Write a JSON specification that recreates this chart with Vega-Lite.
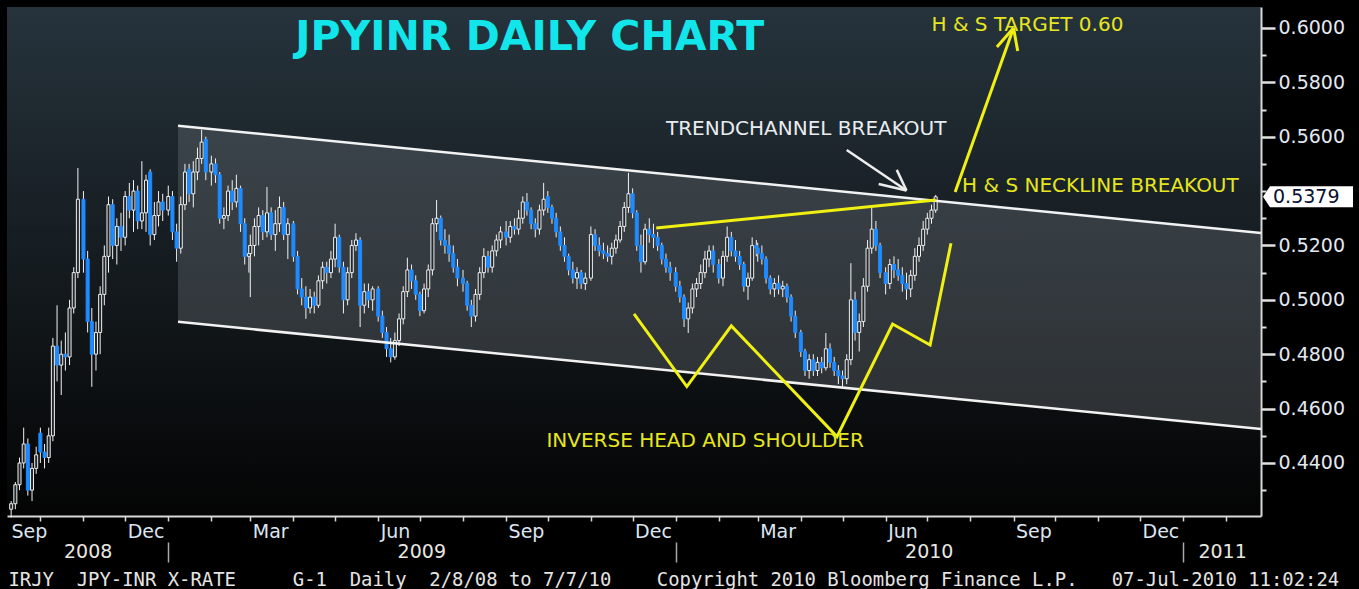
{
"$schema":"https://vega.github.io/schema/vega-lite/v6.json",
"width":1254,"height":509,
"autosize":{"type":"none"},
"padding":{"left":7,"top":7,"right":98,"bottom":73},
"background":"#000000",
"config":{
 "view":{"stroke":null,"fill":{"gradient":"linear","x1":0,"y1":0,"x2":0,"y2":1,"stops":[{"offset":0,"color":"#26333c"},{"offset":1,"color":"#040404"}]}},
 "axis":{"grid":false,"title":null,"labelFont":"DejaVu Sans","labelFontSize":19,"labelColor":"#e2e9f2","labelOverlap":false,"labelFlush":false,"labelLimit":2000,"labelBound":false}
},
"resolve":{"axis":{"x":"independent","y":"independent"}},
"datasets":{
"px":[
{"d":"2008-09-10","o":0.4230,"h":0.4260,"l":0.4200,"c":0.4250},
{"d":"2008-09-13","o":0.4250,"h":0.4330,"l":0.4230,"c":0.4320},
{"d":"2008-09-16","o":0.4320,"h":0.4420,"l":0.4300,"c":0.4400},
{"d":"2008-09-19","o":0.4400,"h":0.4530,"l":0.4380,"c":0.4470},
{"d":"2008-09-22","o":0.4470,"h":0.4490,"l":0.4280,"c":0.4300},
{"d":"2008-09-25","o":0.4300,"h":0.4400,"l":0.4260,"c":0.4380},
{"d":"2008-09-28","o":0.4380,"h":0.4460,"l":0.4360,"c":0.4430},
{"d":"2008-10-01","o":0.4510,"h":0.4530,"l":0.4400,"c":0.4440},
{"d":"2008-10-04","o":0.4440,"h":0.4470,"l":0.4380,"c":0.4420},
{"d":"2008-10-07","o":0.4420,"h":0.4530,"l":0.4400,"c":0.4500},
{"d":"2008-10-10","o":0.4500,"h":0.4860,"l":0.4480,"c":0.4830},
{"d":"2008-10-13","o":0.4830,"h":0.4980,"l":0.4700,"c":0.4760},
{"d":"2008-10-16","o":0.4760,"h":0.4850,"l":0.4650,"c":0.4800},
{"d":"2008-10-19","o":0.4800,"h":0.4880,"l":0.4740,"c":0.4790},
{"d":"2008-10-22","o":0.4790,"h":0.5000,"l":0.4760,"c":0.4970},
{"d":"2008-10-25","o":0.4970,"h":0.5120,"l":0.4950,"c":0.5100},
{"d":"2008-10-28","o":0.5100,"h":0.5485,"l":0.5080,"c":0.5370},
{"d":"2008-11-01","o":0.5370,"h":0.5400,"l":0.5100,"c":0.5150},
{"d":"2008-11-04","o":0.5150,"h":0.5180,"l":0.4880,"c":0.4920},
{"d":"2008-11-07","o":0.4920,"h":0.4970,"l":0.4680,"c":0.4800},
{"d":"2008-11-10","o":0.4800,"h":0.4920,"l":0.4740,"c":0.4880},
{"d":"2008-11-13","o":0.4880,"h":0.5050,"l":0.4800,"c":0.5020},
{"d":"2008-11-16","o":0.5020,"h":0.5200,"l":0.4980,"c":0.5160},
{"d":"2008-11-19","o":0.5160,"h":0.5380,"l":0.5100,"c":0.5350},
{"d":"2008-11-22","o":0.5350,"h":0.5370,"l":0.5150,"c":0.5200},
{"d":"2008-11-25","o":0.5200,"h":0.5300,"l":0.5130,"c":0.5270},
{"d":"2008-11-28","o":0.5270,"h":0.5320,"l":0.5180,"c":0.5230},
{"d":"2008-12-01","o":0.5230,"h":0.5400,"l":0.5200,"c":0.5380},
{"d":"2008-12-04","o":0.5380,"h":0.5430,"l":0.5300,"c":0.5330},
{"d":"2008-12-07","o":0.5330,"h":0.5440,"l":0.5250,"c":0.5400},
{"d":"2008-12-10","o":0.5400,"h":0.5420,"l":0.5260,"c":0.5290},
{"d":"2008-12-13","o":0.5290,"h":0.5510,"l":0.5260,"c":0.5320},
{"d":"2008-12-16","o":0.5320,"h":0.5460,"l":0.5250,"c":0.5440},
{"d":"2008-12-19","o":0.5470,"h":0.5480,"l":0.5200,"c":0.5240},
{"d":"2008-12-22","o":0.5240,"h":0.5360,"l":0.5220,"c":0.5310},
{"d":"2008-12-25","o":0.5310,"h":0.5400,"l":0.5270,"c":0.5360},
{"d":"2008-12-28","o":0.5360,"h":0.5390,"l":0.5290,"c":0.5330},
{"d":"2009-01-01","o":0.5330,"h":0.5420,"l":0.5310,"c":0.5380},
{"d":"2009-01-04","o":0.5380,"h":0.5400,"l":0.5220,"c":0.5250},
{"d":"2009-01-07","o":0.5250,"h":0.5280,"l":0.5140,"c":0.5190},
{"d":"2009-01-10","o":0.5190,"h":0.5380,"l":0.5170,"c":0.5350},
{"d":"2009-01-13","o":0.5350,"h":0.5500,"l":0.5330,"c":0.5470},
{"d":"2009-01-16","o":0.5480,"h":0.5500,"l":0.5360,"c":0.5390},
{"d":"2009-01-19","o":0.5390,"h":0.5510,"l":0.5340,"c":0.5470},
{"d":"2009-01-22","o":0.5470,"h":0.5560,"l":0.5440,"c":0.5520},
{"d":"2009-01-25","o":0.5520,"h":0.5625,"l":0.5500,"c":0.5580},
{"d":"2009-01-28","o":0.5590,"h":0.5600,"l":0.5440,"c":0.5470},
{"d":"2009-02-01","o":0.5470,"h":0.5530,"l":0.5420,"c":0.5500},
{"d":"2009-02-04","o":0.5500,"h":0.5520,"l":0.5430,"c":0.5460},
{"d":"2009-02-07","o":0.5460,"h":0.5470,"l":0.5280,"c":0.5300},
{"d":"2009-02-10","o":0.5300,"h":0.5340,"l":0.5260,"c":0.5310},
{"d":"2009-02-13","o":0.5310,"h":0.5420,"l":0.5290,"c":0.5400},
{"d":"2009-02-16","o":0.5400,"h":0.5440,"l":0.5330,"c":0.5360},
{"d":"2009-02-19","o":0.5360,"h":0.5460,"l":0.5340,"c":0.5410},
{"d":"2009-02-22","o":0.5410,"h":0.5420,"l":0.5250,"c":0.5280},
{"d":"2009-02-25","o":0.5280,"h":0.5300,"l":0.5130,"c":0.5160},
{"d":"2009-02-28","o":0.5160,"h":0.5200,"l":0.5100,"c":0.5170},
{"d":"2009-03-01","o":0.5170,"h":0.5240,"l":0.5010,"c":0.5200},
{"d":"2009-03-04","o":0.5200,"h":0.5300,"l":0.5160,"c":0.5270},
{"d":"2009-03-07","o":0.5270,"h":0.5340,"l":0.5200,"c":0.5310},
{"d":"2009-03-10","o":0.5310,"h":0.5330,"l":0.5220,"c":0.5250},
{"d":"2009-03-13","o":0.5250,"h":0.5415,"l":0.5230,"c":0.5320},
{"d":"2009-03-16","o":0.5320,"h":0.5340,"l":0.5220,"c":0.5240},
{"d":"2009-03-19","o":0.5240,"h":0.5330,"l":0.5180,"c":0.5280},
{"d":"2009-03-22","o":0.5280,"h":0.5380,"l":0.5250,"c":0.5340},
{"d":"2009-03-25","o":0.5340,"h":0.5360,"l":0.5220,"c":0.5240},
{"d":"2009-03-28","o":0.5240,"h":0.5300,"l":0.5150,"c":0.5280},
{"d":"2009-04-01","o":0.5280,"h":0.5290,"l":0.5140,"c":0.5160},
{"d":"2009-04-04","o":0.5160,"h":0.5180,"l":0.5020,"c":0.5040},
{"d":"2009-04-07","o":0.5040,"h":0.5080,"l":0.4980,"c":0.5010},
{"d":"2009-04-10","o":0.5010,"h":0.5050,"l":0.4930,"c":0.4970},
{"d":"2009-04-13","o":0.4970,"h":0.5040,"l":0.4950,"c":0.5010},
{"d":"2009-04-16","o":0.5010,"h":0.5030,"l":0.4950,"c":0.4980},
{"d":"2009-04-19","o":0.4980,"h":0.5090,"l":0.4970,"c":0.5070},
{"d":"2009-04-22","o":0.5070,"h":0.5140,"l":0.5040,"c":0.5120},
{"d":"2009-04-25","o":0.5120,"h":0.5140,"l":0.5060,"c":0.5100},
{"d":"2009-04-28","o":0.5100,"h":0.5180,"l":0.5080,"c":0.5150},
{"d":"2009-05-01","o":0.5150,"h":0.5280,"l":0.5120,"c":0.5230},
{"d":"2009-05-04","o":0.5230,"h":0.5240,"l":0.5100,"c":0.5120},
{"d":"2009-05-07","o":0.5120,"h":0.5140,"l":0.4950,"c":0.5000},
{"d":"2009-05-10","o":0.5000,"h":0.5120,"l":0.4980,"c":0.5100},
{"d":"2009-05-13","o":0.5100,"h":0.5220,"l":0.5080,"c":0.5200},
{"d":"2009-05-16","o":0.5200,"h":0.5245,"l":0.5180,"c":0.5220},
{"d":"2009-05-19","o":0.5220,"h":0.5230,"l":0.4900,"c":0.4980},
{"d":"2009-05-22","o":0.4980,"h":0.5060,"l":0.4950,"c":0.5030},
{"d":"2009-05-25","o":0.5030,"h":0.5060,"l":0.4970,"c":0.5000},
{"d":"2009-05-28","o":0.5000,"h":0.5050,"l":0.4960,"c":0.5040},
{"d":"2009-06-01","o":0.5040,"h":0.5050,"l":0.4920,"c":0.4940},
{"d":"2009-06-04","o":0.4940,"h":0.4960,"l":0.4860,"c":0.4880},
{"d":"2009-06-07","o":0.4880,"h":0.4900,"l":0.4790,"c":0.4820},
{"d":"2009-06-10","o":0.4820,"h":0.4860,"l":0.4770,"c":0.4790},
{"d":"2009-06-13","o":0.4790,"h":0.4880,"l":0.4780,"c":0.4850},
{"d":"2009-06-16","o":0.4850,"h":0.4950,"l":0.4830,"c":0.4930},
{"d":"2009-06-19","o":0.4930,"h":0.5050,"l":0.4910,"c":0.5030},
{"d":"2009-06-22","o":0.5030,"h":0.5155,"l":0.5010,"c":0.5110},
{"d":"2009-06-25","o":0.5110,"h":0.5130,"l":0.5040,"c":0.5070},
{"d":"2009-06-28","o":0.5070,"h":0.5090,"l":0.5000,"c":0.5020},
{"d":"2009-07-01","o":0.5020,"h":0.5030,"l":0.4940,"c":0.4960},
{"d":"2009-07-04","o":0.4960,"h":0.5060,"l":0.4950,"c":0.5040},
{"d":"2009-07-07","o":0.5040,"h":0.5130,"l":0.5010,"c":0.5110},
{"d":"2009-07-10","o":0.5110,"h":0.5300,"l":0.5090,"c":0.5280},
{"d":"2009-07-13","o":0.5280,"h":0.5367,"l":0.5250,"c":0.5300},
{"d":"2009-07-16","o":0.5300,"h":0.5310,"l":0.5200,"c":0.5220},
{"d":"2009-07-19","o":0.5220,"h":0.5260,"l":0.5170,"c":0.5200},
{"d":"2009-07-22","o":0.5200,"h":0.5240,"l":0.5140,"c":0.5170},
{"d":"2009-07-25","o":0.5170,"h":0.5200,"l":0.5100,"c":0.5120},
{"d":"2009-07-28","o":0.5120,"h":0.5150,"l":0.5050,"c":0.5080},
{"d":"2009-08-01","o":0.5080,"h":0.5110,"l":0.5030,"c":0.5060},
{"d":"2009-08-04","o":0.5060,"h":0.5070,"l":0.4960,"c":0.4980},
{"d":"2009-08-07","o":0.4980,"h":0.5000,"l":0.4900,"c":0.4940},
{"d":"2009-08-10","o":0.4940,"h":0.5040,"l":0.4920,"c":0.5020},
{"d":"2009-08-13","o":0.5020,"h":0.5120,"l":0.5000,"c":0.5100},
{"d":"2009-08-16","o":0.5100,"h":0.5190,"l":0.5080,"c":0.5160},
{"d":"2009-08-19","o":0.5160,"h":0.5180,"l":0.5100,"c":0.5120},
{"d":"2009-08-22","o":0.5120,"h":0.5200,"l":0.5100,"c":0.5180},
{"d":"2009-08-25","o":0.5180,"h":0.5240,"l":0.5160,"c":0.5220},
{"d":"2009-08-28","o":0.5220,"h":0.5270,"l":0.5190,"c":0.5250},
{"d":"2009-09-01","o":0.5250,"h":0.5290,"l":0.5200,"c":0.5230},
{"d":"2009-09-04","o":0.5230,"h":0.5290,"l":0.5210,"c":0.5270},
{"d":"2009-09-07","o":0.5270,"h":0.5300,"l":0.5240,"c":0.5260},
{"d":"2009-09-10","o":0.5260,"h":0.5330,"l":0.5240,"c":0.5300},
{"d":"2009-09-13","o":0.5300,"h":0.5380,"l":0.5280,"c":0.5360},
{"d":"2009-09-16","o":0.5360,"h":0.5393,"l":0.5310,"c":0.5330},
{"d":"2009-09-19","o":0.5330,"h":0.5340,"l":0.5260,"c":0.5280},
{"d":"2009-09-22","o":0.5280,"h":0.5300,"l":0.5230,"c":0.5260},
{"d":"2009-09-25","o":0.5260,"h":0.5350,"l":0.5240,"c":0.5330},
{"d":"2009-09-28","o":0.5330,"h":0.5430,"l":0.5310,"c":0.5370},
{"d":"2009-10-01","o":0.5380,"h":0.5400,"l":0.5320,"c":0.5340},
{"d":"2009-10-04","o":0.5340,"h":0.5350,"l":0.5280,"c":0.5300},
{"d":"2009-10-07","o":0.5300,"h":0.5320,"l":0.5230,"c":0.5250},
{"d":"2009-10-10","o":0.5250,"h":0.5270,"l":0.5180,"c":0.5200},
{"d":"2009-10-13","o":0.5200,"h":0.5230,"l":0.5140,"c":0.5160},
{"d":"2009-10-16","o":0.5160,"h":0.5170,"l":0.5090,"c":0.5110},
{"d":"2009-10-19","o":0.5110,"h":0.5140,"l":0.5060,"c":0.5080},
{"d":"2009-10-22","o":0.5080,"h":0.5120,"l":0.5040,"c":0.5100},
{"d":"2009-10-25","o":0.5100,"h":0.5110,"l":0.5040,"c":0.5060},
{"d":"2009-10-28","o":0.5060,"h":0.5100,"l":0.5036,"c":0.5080},
{"d":"2009-11-01","o":0.5080,"h":0.5270,"l":0.5070,"c":0.5240},
{"d":"2009-11-04","o":0.5240,"h":0.5260,"l":0.5180,"c":0.5200},
{"d":"2009-11-07","o":0.5200,"h":0.5230,"l":0.5160,"c":0.5180},
{"d":"2009-11-10","o":0.5180,"h":0.5210,"l":0.5150,"c":0.5170},
{"d":"2009-11-13","o":0.5170,"h":0.5200,"l":0.5140,"c":0.5160},
{"d":"2009-11-16","o":0.5160,"h":0.5210,"l":0.5130,"c":0.5190},
{"d":"2009-11-19","o":0.5190,"h":0.5240,"l":0.5170,"c":0.5220},
{"d":"2009-11-22","o":0.5220,"h":0.5290,"l":0.5210,"c":0.5270},
{"d":"2009-11-25","o":0.5270,"h":0.5360,"l":0.5250,"c":0.5340},
{"d":"2009-11-28","o":0.5340,"h":0.5467,"l":0.5320,"c":0.5390},
{"d":"2009-12-01","o":0.5390,"h":0.5410,"l":0.5300,"c":0.5320},
{"d":"2009-12-04","o":0.5320,"h":0.5330,"l":0.5180,"c":0.5200},
{"d":"2009-12-07","o":0.5200,"h":0.5240,"l":0.5100,"c":0.5140},
{"d":"2009-12-10","o":0.5140,"h":0.5280,"l":0.5130,"c":0.5260},
{"d":"2009-12-13","o":0.5260,"h":0.5300,"l":0.5210,"c":0.5240},
{"d":"2009-12-16","o":0.5240,"h":0.5280,"l":0.5190,"c":0.5230},
{"d":"2009-12-19","o":0.5230,"h":0.5250,"l":0.5180,"c":0.5200},
{"d":"2009-12-22","o":0.5200,"h":0.5210,"l":0.5130,"c":0.5150},
{"d":"2009-12-25","o":0.5150,"h":0.5170,"l":0.5100,"c":0.5120},
{"d":"2009-12-28","o":0.5120,"h":0.5140,"l":0.5070,"c":0.5100},
{"d":"2010-01-01","o":0.5100,"h":0.5120,"l":0.5030,"c":0.5050},
{"d":"2010-01-04","o":0.5050,"h":0.5070,"l":0.4990,"c":0.5010},
{"d":"2010-01-07","o":0.5010,"h":0.5020,"l":0.4900,"c":0.4930},
{"d":"2010-01-10","o":0.4930,"h":0.4990,"l":0.4878,"c":0.4970},
{"d":"2010-01-13","o":0.4970,"h":0.5060,"l":0.4950,"c":0.5040},
{"d":"2010-01-16","o":0.5040,"h":0.5080,"l":0.5010,"c":0.5060},
{"d":"2010-01-19","o":0.5060,"h":0.5130,"l":0.5040,"c":0.5100},
{"d":"2010-01-22","o":0.5100,"h":0.5180,"l":0.5080,"c":0.5150},
{"d":"2010-01-25","o":0.5150,"h":0.5200,"l":0.5120,"c":0.5180},
{"d":"2010-01-28","o":0.5180,"h":0.5200,"l":0.5100,"c":0.5130},
{"d":"2010-02-01","o":0.5130,"h":0.5150,"l":0.5060,"c":0.5080},
{"d":"2010-02-04","o":0.5080,"h":0.5180,"l":0.5050,"c":0.5160},
{"d":"2010-02-07","o":0.5160,"h":0.5270,"l":0.5140,"c":0.5230},
{"d":"2010-02-10","o":0.5230,"h":0.5250,"l":0.5160,"c":0.5180},
{"d":"2010-02-13","o":0.5180,"h":0.5220,"l":0.5140,"c":0.5160},
{"d":"2010-02-16","o":0.5160,"h":0.5180,"l":0.5110,"c":0.5130},
{"d":"2010-02-19","o":0.5130,"h":0.5140,"l":0.5030,"c":0.5050},
{"d":"2010-02-22","o":0.5050,"h":0.5100,"l":0.5000,"c":0.5080},
{"d":"2010-02-25","o":0.5080,"h":0.5230,"l":0.5070,"c":0.5200},
{"d":"2010-02-28","o":0.5200,"h":0.5220,"l":0.5160,"c":0.5190},
{"d":"2010-03-01","o":0.5190,"h":0.5210,"l":0.5140,"c":0.5170},
{"d":"2010-03-04","o":0.5170,"h":0.5200,"l":0.5130,"c":0.5150},
{"d":"2010-03-07","o":0.5150,"h":0.5160,"l":0.5060,"c":0.5080},
{"d":"2010-03-10","o":0.5080,"h":0.5090,"l":0.5020,"c":0.5040},
{"d":"2010-03-13","o":0.5040,"h":0.5080,"l":0.5010,"c":0.5060},
{"d":"2010-03-16","o":0.5060,"h":0.5090,"l":0.5020,"c":0.5040},
{"d":"2010-03-19","o":0.5040,"h":0.5070,"l":0.5010,"c":0.5050},
{"d":"2010-03-22","o":0.5050,"h":0.5060,"l":0.4990,"c":0.5010},
{"d":"2010-03-25","o":0.5010,"h":0.5020,"l":0.4920,"c":0.4940},
{"d":"2010-03-28","o":0.4940,"h":0.4960,"l":0.4860,"c":0.4880},
{"d":"2010-04-01","o":0.4880,"h":0.4890,"l":0.4790,"c":0.4810},
{"d":"2010-04-04","o":0.4810,"h":0.4820,"l":0.4720,"c":0.4740},
{"d":"2010-04-07","o":0.4740,"h":0.4800,"l":0.4710,"c":0.4780},
{"d":"2010-04-10","o":0.4780,"h":0.4800,"l":0.4720,"c":0.4740},
{"d":"2010-04-13","o":0.4740,"h":0.4790,"l":0.4720,"c":0.4770},
{"d":"2010-04-16","o":0.4770,"h":0.4790,"l":0.4730,"c":0.4750},
{"d":"2010-04-19","o":0.4750,"h":0.4878,"l":0.4740,"c":0.4820},
{"d":"2010-04-22","o":0.4820,"h":0.4840,"l":0.4750,"c":0.4770},
{"d":"2010-04-25","o":0.4770,"h":0.4790,"l":0.4720,"c":0.4740},
{"d":"2010-04-28","o":0.4740,"h":0.4760,"l":0.4690,"c":0.4720},
{"d":"2010-05-01","o":0.4720,"h":0.4740,"l":0.4680,"c":0.4710},
{"d":"2010-05-04","o":0.4710,"h":0.4800,"l":0.4690,"c":0.4780},
{"d":"2010-05-07","o":0.4780,"h":0.5135,"l":0.4760,"c":0.5000},
{"d":"2010-05-10","o":0.5000,"h":0.5030,"l":0.4850,"c":0.4880},
{"d":"2010-05-13","o":0.4880,"h":0.4950,"l":0.4810,"c":0.4920},
{"d":"2010-05-16","o":0.4920,"h":0.5080,"l":0.4900,"c":0.5050},
{"d":"2010-05-19","o":0.5050,"h":0.5220,"l":0.5030,"c":0.5190},
{"d":"2010-05-22","o":0.5190,"h":0.5340,"l":0.5170,"c":0.5260},
{"d":"2010-05-25","o":0.5260,"h":0.5290,"l":0.5180,"c":0.5200},
{"d":"2010-05-28","o":0.5200,"h":0.5210,"l":0.5080,"c":0.5100},
{"d":"2010-06-01","o":0.5100,"h":0.5120,"l":0.5020,"c":0.5060},
{"d":"2010-06-04","o":0.5060,"h":0.5150,"l":0.5040,"c":0.5130},
{"d":"2010-06-07","o":0.5130,"h":0.5160,"l":0.5080,"c":0.5110},
{"d":"2010-06-10","o":0.5110,"h":0.5150,"l":0.5070,"c":0.5090},
{"d":"2010-06-13","o":0.5090,"h":0.5120,"l":0.5030,"c":0.5060},
{"d":"2010-06-16","o":0.5060,"h":0.5100,"l":0.5000,"c":0.5040},
{"d":"2010-06-19","o":0.5040,"h":0.5110,"l":0.5010,"c":0.5090},
{"d":"2010-06-22","o":0.5090,"h":0.5190,"l":0.5070,"c":0.5160},
{"d":"2010-06-25","o":0.5160,"h":0.5230,"l":0.5140,"c":0.5200},
{"d":"2010-06-28","o":0.5200,"h":0.5290,"l":0.5180,"c":0.5260},
{"d":"2010-07-01","o":0.5260,"h":0.5320,"l":0.5240,"c":0.5300},
{"d":"2010-07-04","o":0.5300,"h":0.5350,"l":0.5280,"c":0.5330},
{"d":"2010-07-07","o":0.5330,"h":0.5386,"l":0.5320,"c":0.5379}
],
"channel":[
{"d":"2009-01-08","top":0.5640,"bot":0.4919},
{"d":"2011-02-26","top":0.5246,"bot":0.4525}
]
},
"layer":[
{
 "data":{"name":"channel"},
 "mark":{"type":"area","color":"#7d848b","opacity":0.3},
 "encoding":{
  "x":{"field":"d","type":"temporal","scale":{"type":"utc","domain":[{"year":2008,"month":9,"date":7,"utc":true},{"year":2011,"month":2,"date":26,"utc":true}],"nice":false,"padding":0},
   "axis":{"orient":"bottom","values":[{"year":2008,"month":11,"date":4,"utc":true},{"year":2009,"month":7,"date":2,"utc":true},{"year":2010,"month":7,"date":2,"utc":true},{"year":2011,"month":1,"date":29,"utc":true}],"labelExpr":"utcFormat(datum.value, '%Y')","ticks":false,"tickSize":0,"domain":false,"labelAlign":"center","labelPadding":26,"labelColor":"#e8e8e0"}},
  "y":{"field":"top","type":"quantitative","scale":{"domain":[0.4205,0.6077],"nice":false,"zero":false,"padding":0},
   "axis":{"orient":"right","values":[0.44,0.46,0.48,0.5,0.52,0.56,0.58,0.6],"format":".4f","tickColor":"#e0e0e0","tickWidth":2.5,"tickSize":14,"labelPadding":3,"domainColor":"#d8d8d8","domainWidth":2,"labelColor":"#e2e9f2"}},
  "y2":{"field":"bot"}
 }
},
{
 "data":{"name":"px"},
 "mark":{"type":"rule","color":"#f2f2f2","strokeWidth":1},
 "encoding":{
  "x":{"field":"d","type":"temporal","axis":{"orient":"bottom","tickCount":{"interval":"month","step":1},"labelExpr":"indexof([2,5,8,11], utcmonth(datum.value)) >= 0 ? utcFormat(datum.value, '%b') : ''","labelAlign":"left","labelOffset":2,"labelPadding":1,"tickSize":5,"tickColor":"#d8d8d8","tickWidth":1.5,"domainColor":"#d8d8d8","domainWidth":2,"labelColor":"#dde6f3"}},
  "y":{"field":"l","type":"quantitative","axis":{"orient":"right","values":[0.43,0.45,0.47,0.49,0.51,0.53,0.54,0.55,0.57,0.59],"labels":false,"domain":false,"tickSize":5,"tickWidth":2,"tickColor":"#e0e0e0"}},
  "y2":{"field":"h"}
 }
},
{
 "data":{"name":"px"},
 "mark":{"type":"bar","size":3,"strokeWidth":1},
 "encoding":{
  "x":{"field":"d","type":"temporal","axis":null},
  "y":{"field":"o","type":"quantitative","axis":null},
  "y2":{"field":"c"},
  "fill":{"condition":{"test":"datum.c < datum.o","value":"#1f8bff"},"value":"#23282c"},
  "stroke":{"condition":{"test":"datum.c < datum.o","value":"#1f8bff"},"value":"#f0f0f0"}
 }
},
{
 "data":{"name":"channel"},
 "mark":{"type":"line","color":"#f2f2f2","strokeWidth":2.5},
 "encoding":{
  "x":{"field":"d","type":"temporal","axis":{"orient":"bottom","values":[{"year":2009,"month":1,"date":1,"utc":true},{"year":2010,"month":1,"date":1,"utc":true},{"year":2011,"month":1,"date":1,"utc":true}],"labels":false,"domain":false,"ticks":true,"tickSize":20,"tickColor":"#a8a8a8","tickWidth":1.5,"offset":26}},
  "y":{"field":"top","type":"quantitative","axis":null}
 }
},
{
 "data":{"name":"channel"},
 "mark":{"type":"line","color":"#f2f2f2","strokeWidth":2.5},
 "encoding":{
  "x":{"field":"d","type":"temporal","axis":{"orient":"bottom","values":[{"year":2008,"month":9,"date":7,"utc":true}],"labelExpr":"'Sep'","ticks":false,"tickSize":0,"domain":false,"labelAlign":"left","labelOffset":4,"labelPadding":6,"labelColor":"#dde6f3"}},
  "y":{"field":"bot","type":"quantitative","axis":null}
 }
},
{
 "data":{"values":[
  {"g":"neck","i":1,"d":"2009-12-18","v":0.5264},{"g":"neck","i":2,"d":"2010-07-07","v":0.5367},
  {"g":"shaft","i":1,"d":"2010-07-21","v":0.5397},{"g":"shaft","i":2,"d":"2010-09-01","v":0.6000},
  {"g":"barb1","i":1,"d":"2010-08-20","v":0.5930},{"g":"barb1","i":2,"d":"2010-09-01","v":0.6000},
  {"g":"barb2","i":1,"d":"2010-09-04","v":0.5915},{"g":"barb2","i":2,"d":"2010-09-01","v":0.6000},
  {"g":"ihs","i":1,"d":"2009-12-02","v":0.4948},{"g":"ihs","i":2,"d":"2010-01-09","v":0.4681},
  {"g":"ihs","i":3,"d":"2010-02-10","v":0.4904},{"g":"ihs","i":4,"d":"2010-04-27","v":0.4497},
  {"g":"ihs","i":5,"d":"2010-06-06","v":0.4911},{"g":"ihs","i":6,"d":"2010-07-03","v":0.4834},
  {"g":"ihs","i":7,"d":"2010-07-18","v":0.5208}
 ]},
 "mark":{"type":"line","color":"#f0f012","strokeWidth":3},
 "encoding":{
  "x":{"field":"d","type":"temporal","axis":null},
  "y":{"field":"v","type":"quantitative","axis":null},
  "detail":{"field":"g"},
  "order":{"field":"i"}
 }
},
{
 "data":{"values":[
  {"g":"shaft","i":1,"d":"2010-05-04","v":0.5551},{"g":"shaft","i":2,"d":"2010-06-16","v":0.5402},
  {"g":"b1","i":1,"d":"2010-05-27","v":0.5426},{"g":"b1","i":2,"d":"2010-06-16","v":0.5402},
  {"g":"b2","i":1,"d":"2010-06-09","v":0.5478},{"g":"b2","i":2,"d":"2010-06-16","v":0.5402}
 ]},
 "mark":{"type":"line","color":"#eeeeee","strokeWidth":2.5},
 "encoding":{
  "x":{"field":"d","type":"temporal","axis":null},
  "y":{"field":"v","type":"quantitative","axis":null},
  "detail":{"field":"g"},
  "order":{"field":"i"}
 }
},
{
 "data":{"values":[{"d":"2009-09-18","v":0.5963,"t":"JPYINR DAILY CHART"}]},
 "mark":{"type":"text","font":"DejaVu Sans","fontWeight":"bold","fontSize":41,"color":"#12e6ea","align":"center","baseline":"middle"},
 "encoding":{"x":{"field":"d","type":"temporal","axis":null},"y":{"field":"v","type":"quantitative","axis":null},"text":{"field":"t"}}
},
{
 "data":{"values":[
  {"d":"2010-07-04","v":0.6011,"t":"H & S TARGET 0.60"},
  {"d":"2010-07-26","v":0.5419,"t":"H & S NECKLINE BREAKOUT"},
  {"d":"2009-09-30","v":0.4481,"t":"INVERSE HEAD AND SHOULDER"}
 ]},
 "mark":{"type":"text","font":"DejaVu Sans","fontSize":20,"color":"#e6e620","align":"left","baseline":"middle"},
 "encoding":{"x":{"field":"d","type":"temporal","axis":null},"y":{"field":"v","type":"quantitative","axis":null},"text":{"field":"t"}}
},
{
 "data":{"values":[{"d":"2009-12-25","v":0.5630,"t":"TRENDCHANNEL BREAKOUT"}]},
 "mark":{"type":"text","font":"DejaVu Sans","fontSize":20,"color":"#e8ecf0","align":"left","baseline":"middle"},
 "encoding":{"x":{"field":"d","type":"temporal","axis":null},"y":{"field":"v","type":"quantitative","axis":null},"text":{"field":"t"}}
},
{
 "data":{"values":[{"d":"2011-02-26","v":0.5379}]},
 "mark":{"type":"point","shape":"M0.2,0L0.9,-1.05L9.2,-1.05L9.2,1.05L0.9,1.05Z","size":400,"filled":true,"fill":"#ffffff","opacity":1,"strokeWidth":0},
 "encoding":{
  "x":{"field":"d","type":"temporal","axis":{"orient":"bottom","values":[{"year":2008,"month":9,"date":7,"utc":true}],"labelExpr":"'IRJY\u00a0\u00a0JPY-INR\u00a0X-RATE\u00a0\u00a0\u00a0\u00a0\u00a0G-1\u00a0\u00a0Daily\u00a0\u00a02/8/08\u00a0to\u00a07/7/10\u00a0\u00a0\u00a0\u00a0Copyright\u00a02010\u00a0Bloomberg\u00a0Finance\u00a0L.P.\u00a0\u00a0\u00a007-Jul-2010\u00a011:02:24'","ticks":false,"tickSize":0,"domain":false,"labelAlign":"left","labelOffset":1,"labelPadding":54,"labelFont":"DejaVu Sans Mono","labelFontSize":18.9,"labelColor":"#e4e4e4"}},
  "y":{"field":"v","type":"quantitative","axis":null}
 }
},
{
 "data":{"values":[{"d":"2011-02-26","v":0.5379,"t":"0.5379"}]},
 "mark":{"type":"text","font":"DejaVu Sans","fontSize":19,"color":"#0a1030","align":"left","baseline":"middle","dx":12},
 "encoding":{"x":{"field":"d","type":"temporal","axis":null},"y":{"field":"v","type":"quantitative","axis":null},"text":{"field":"t"}}
}
]
}
